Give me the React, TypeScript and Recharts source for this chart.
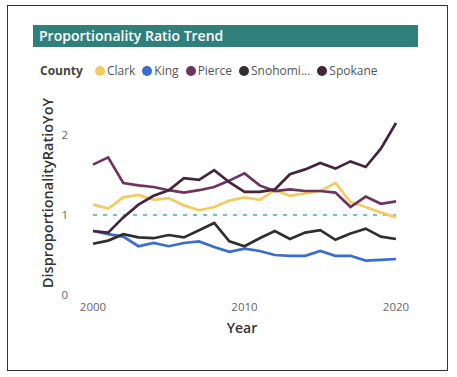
import React from 'react';
import { LineChart, Line, XAxis, YAxis, ReferenceLine } from 'recharts';

const YEARS = [2000, 2001, 2002, 2003, 2004, 2005, 2006, 2007, 2008, 2009, 2010, 2011, 2012, 2013, 2014, 2015, 2016, 2017, 2018, 2019, 2020];
const CLARK = [1.13, 1.08, 1.22, 1.25, 1.19, 1.21, 1.12, 1.06, 1.1, 1.18, 1.22, 1.19, 1.31, 1.24, 1.27, 1.3, 1.4, 1.16, 1.1, 1.03, 0.97];
const KING = [0.8, 0.76, 0.73, 0.61, 0.65, 0.61, 0.65, 0.67, 0.6, 0.54, 0.58, 0.55, 0.5, 0.49, 0.49, 0.55, 0.49, 0.49, 0.43, 0.44, 0.45];
const PIERCE = [1.63, 1.72, 1.4, 1.37, 1.35, 1.31, 1.28, 1.31, 1.35, 1.43, 1.52, 1.37, 1.3, 1.32, 1.3, 1.3, 1.28, 1.1, 1.23, 1.14, 1.17];
const SNOHOMISH = [0.64, 0.68, 0.76, 0.72, 0.71, 0.75, 0.72, 0.81, 0.9, 0.67, 0.61, 0.71, 0.8, 0.7, 0.78, 0.81, 0.69, 0.77, 0.83, 0.73, 0.7];
const SPOKANE = [0.8, 0.78, 0.97, 1.13, 1.24, 1.31, 1.46, 1.44, 1.56, 1.41, 1.29, 1.29, 1.32, 1.51, 1.57, 1.65, 1.58, 1.67, 1.6, 1.83, 2.15];

const X_TICKS = [2000, 2010, 2020];
const Y_TICKS = [0, 1, 2];

const SERIES = [
  { key: 'Clark', label: 'Clark', color: '#f4cb5f' },
  { key: 'King', label: 'King', color: '#3b6dcc' },
  { key: 'Pierce', label: 'Pierce', color: '#6d3460' },
  { key: 'Snohomish', label: 'Snohomi...', color: '#2f2f2f' },
  { key: 'Spokane', label: 'Spokane', color: '#43263c' },
];

const data = YEARS.map((year, i) => ({
  year,
  Clark: CLARK[i],
  King: KING[i],
  Pierce: PIERCE[i],
  Snohomish: SNOHOMISH[i],
  Spokane: SPOKANE[i],
}));

const FONT = '"Open Sans", "Noto Sans", sans-serif';

export default function App() {
  return (
    <div style={{ position: 'absolute', left: 0, top: 0, width: 457, height: 377, background: '#fff', fontFamily: FONT }}>
      {/* frame */}
      <div style={{ position: 'absolute', left: 7, top: 5, width: 439, height: 364, border: '1.5px solid #333' }} />

      {/* title */}
      <div
        style={{
          position: 'absolute', left: 33, top: 25, width: 385, height: 22, background: '#2f7f7c',
          color: '#fff', fontSize: 14, fontWeight: 600, lineHeight: '22px', paddingLeft: 6, boxSizing: 'border-box',
        }}
      >
        Proportionality Ratio Trend
      </div>

      {/* legend */}
      <div style={{ position: 'absolute', left: 40, top: 62, display: 'flex', alignItems: 'center', fontSize: 12, color: '#555', whiteSpace: 'nowrap' }}>
        <span style={{ fontWeight: 700, color: '#444', marginRight: 12 }}>County</span>
        {SERIES.map((s) => (
          <span key={s.key} style={{ display: 'flex', alignItems: 'center', marginRight: 7 }}>
            <span style={{ width: 10, height: 10, borderRadius: 5, background: s.color, marginRight: 2, display: 'inline-block' }} />
            {s.label}
          </span>
        ))}
      </div>

      <div style={{ position: 'absolute', left: 0, top: 0 }}>
        <LineChart width={457} height={377} data={data} margin={{ top: 111, right: 61, bottom: 52, left: 63 }}>
          <XAxis
            dataKey="year"
            type="number"
            domain={[2000, 2020]}
            ticks={X_TICKS}
            axisLine={false}
            tickLine={false}
            height={30}
            tick={{ fill: '#666', fontSize: 11.5, fontFamily: FONT }}
          />
          <YAxis
            type="number"
            domain={[0, 2.3]}
            ticks={Y_TICKS}
            axisLine={false}
            tickLine={false}
            width={30}
            tickMargin={19}
            tick={{ fill: '#666', fontSize: 11.5, fontFamily: FONT }}
          />
          <ReferenceLine y={1} stroke="#6cc7b8" strokeWidth={2} strokeDasharray="4 6" />
          {SERIES.map((s) => (
            <Line
              key={s.key}
              type="linear"
              dataKey={s.key}
              stroke={s.color}
              strokeWidth={2.7}
              dot={false}
              isAnimationActive={false}
            />
          ))}
        </LineChart>
      </div>

      {/* axis titles */}
      <div
        style={{
          position: 'absolute', left: 47, top: 193, transform: 'translate(-50%, -50%) rotate(-90deg)',
          fontSize: 14.5, fontWeight: 600, color: '#333', whiteSpace: 'nowrap',
        }}
      >
        DisproportionalityRatioYoY
      </div>
      <div
        style={{
          position: 'absolute', left: 242, top: 327, transform: 'translate(-50%, -50%)',
          fontSize: 14, fontWeight: 600, color: '#333',
        }}
      >
        Year
      </div>
    </div>
  );
}
